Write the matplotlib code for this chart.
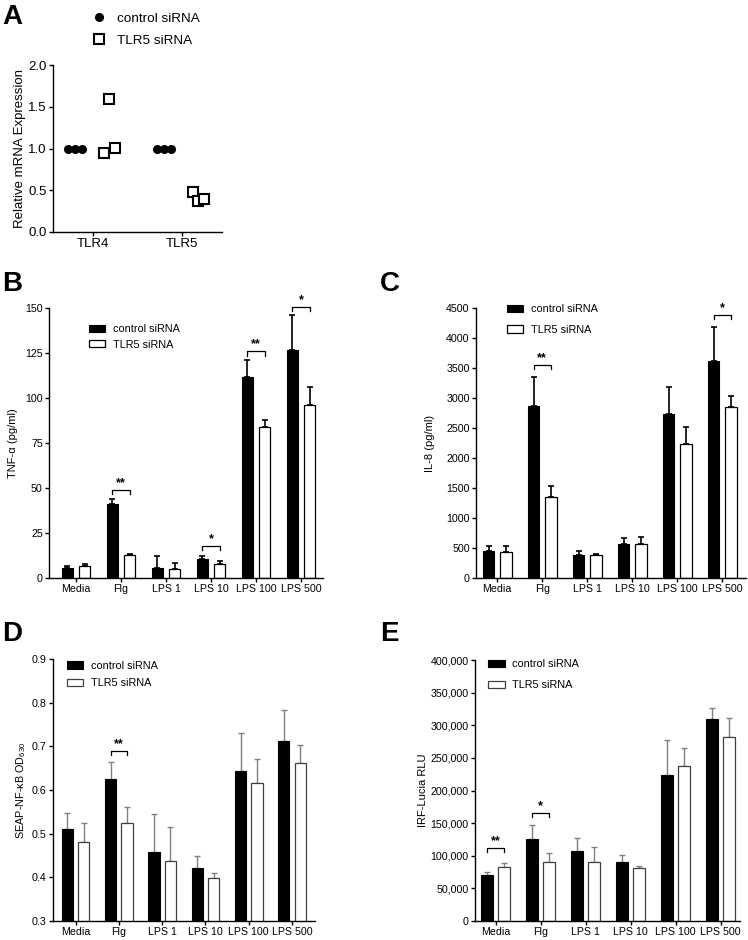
import matplotlib
matplotlib.use('Agg')
import matplotlib.pyplot as plt
import numpy as np
from matplotlib.ticker import FuncFormatter

plt.rcParams['font.family'] = ['Liberation Sans', 'DejaVu Sans']
plt.rcParams['mathtext.fontset'] = 'custom'
plt.rcParams['mathtext.rm'] = 'Liberation Sans'
plt.rcParams['axes.linewidth'] = 1.0

# %% data

genes = ['TLR4', 'TLR5']
a_control = [[1.0, 1.0, 1.0], [1.0, 1.0, 1.0]]
a_sirna = [[0.95, 1.59, 1.01], [0.48, 0.37, 0.39]]

treatments = ['Media', 'Flg', 'LPS 1', 'LPS 10', 'LPS 100', 'LPS 500']

tnf_control = [5.7, 41.3, 5.7, 10.4, 111.6, 126.7]
tnf_control_err = [0.8, 2.7, 6.5, 1.6, 9.4, 19.2]
tnf_sirna = [6.5, 12.8, 5.0, 8.0, 84.0, 95.9]
tnf_sirna_err = [1.5, 0.7, 3.5, 1.6, 3.7, 10.3]
tnf_sig = [(1, 49, '**'), (3, 18, '*'), (4, 126, '**'), (5, 150.5, '*')]

il8_control = [456, 2861, 378, 567, 2733, 3611]
il8_control_err = [83, 495, 78, 94, 456, 567]
il8_sirna = [439, 1356, 378, 561, 2233, 2856]
il8_sirna_err = [100, 172, 28, 117, 289, 172]
il8_sig = [(1, 3550, '**'), (5, 4390, '*')]

nfkb_control = [0.510, 0.626, 0.458, 0.421, 0.643, 0.712]
nfkb_control_err = [0.038, 0.038, 0.087, 0.029, 0.088, 0.071]
nfkb_sirna = [0.481, 0.525, 0.437, 0.398, 0.615, 0.661]
nfkb_sirna_err = [0.043, 0.036, 0.078, 0.013, 0.055, 0.041]
nfkb_sig = [(1, 0.69, '**')]

irf_control = [70300, 125600, 108000, 90000, 223000, 310000]
irf_control_err = [5500, 21400, 19000, 11000, 54000, 16000]
irf_sirna = [83500, 91000, 91000, 81000, 238000, 281500]
irf_sirna_err = [5200, 12500, 23000, 4000, 27000, 29500]
irf_sig = [(0, 112000, '**'), (1, 166000, '*')]

# %% layout helpers

W, H = 748, 940


def px_axes(fig, left, top, right, bottom):
    return fig.add_axes([left / W, 1 - bottom / H, (right - left) / W, (bottom - top) / H])


def style_axes(ax, fs):
    ax.spines['top'].set_visible(False)
    ax.spines['right'].set_visible(False)
    ax.tick_params(direction='out', length=3, width=1, labelsize=fs, pad=1.5)


def bar_panel(ax, ctrl, ctrl_err, sirna, sirna_err, sig, ylim, yticks,
              xlim, err_color='black', edge='black', err_lw=1.2):
    x = np.arange(len(treatments))
    off, w = 0.19, 0.26
    ax.bar(x - off, ctrl, w, color='black', edgecolor='black', linewidth=0.8,
           label='control siRNA', zorder=2)
    ax.bar(x + off, sirna, w, color='white', edgecolor=edge, linewidth=0.9,
           label='TLR5 siRNA', zorder=2)
    ax.errorbar(x - off, ctrl, yerr=[np.zeros(len(x)), ctrl_err], fmt='none',
                ecolor=err_color, elinewidth=err_lw, capsize=2.5, capthick=err_lw, zorder=1)
    ax.errorbar(x + off, sirna, yerr=[np.zeros(len(x)), sirna_err], fmt='none',
                ecolor=err_color, elinewidth=err_lw, capsize=2.5, capthick=err_lw, zorder=1)
    drop = 0.016 * (ylim[1] - ylim[0])
    for i, y, s in sig:
        ax.plot([i - off, i - off, i + off, i + off], [y - drop, y, y, y - drop],
                color='black', lw=0.9, clip_on=False)
        ax.annotate(s, (i, y), xytext=(0, 0.5), textcoords='offset points',
                    ha='center', va='bottom', fontsize=9, fontweight='bold',
                    annotation_clip=False)
    ax.set_xlim(*xlim)
    ax.set_ylim(*ylim)
    ax.set_yticks(yticks)
    ax.set_xticks(x)
    ax.set_xticklabels(treatments)
    style_axes(ax, 7.7)


def bar_legend(ax, x, y, spacing):
    ax.legend(loc='upper left', bbox_to_anchor=(x, y), frameon=False,
              fontsize=7.8, handlelength=1.5, handleheight=0.65, handletextpad=0.7,
              labelspacing=spacing, borderpad=0, borderaxespad=0)


fig = plt.figure(figsize=(W / 100, H / 100), dpi=100)

# %% A

ax_a = px_axes(fig, 53, 65, 222, 232)
ctrl_off = [-0.28, -0.2, -0.12]
sirna_off = [0.12, 0.18, 0.25]
for g in range(len(genes)):
    ax_a.plot(g + np.array(ctrl_off), a_control[g], 'o', color='black', ms=5.5,
              ls='none', clip_on=False, label='control siRNA' if g == 0 else None)
    ax_a.plot(g + np.array(sirna_off), a_sirna[g], 's', mfc='white', mec='black',
              mew=1.5, ms=6.5, ls='none', clip_on=False,
              label='TLR5 siRNA' if g == 0 else None)
ax_a.set_xlim(-0.45, 1.45)
ax_a.set_ylim(0, 2.0)
ax_a.set_yticks([0, 0.5, 1.0, 1.5, 2.0])
ax_a.yaxis.set_major_formatter(FuncFormatter(lambda v, p: f'{v:.1f}'))
ax_a.set_xticks(range(len(genes)))
ax_a.set_xticklabels(genes)
style_axes(ax_a, 9.5)
ax_a.set_ylabel('Relative mRNA Expression', fontsize=9.5)
ax_a.yaxis.set_label_coords(-0.16, 0.5)
ax_a.legend(loc='upper left', bbox_to_anchor=(0.235, 1.315), frameon=False,
            fontsize=9.7, handlelength=1.0, handletextpad=0.8, labelspacing=0.72,
            borderpad=0, borderaxespad=0)

# %% B

ax_b = px_axes(fig, 49, 308, 323, 578)
bar_panel(ax_b, tnf_control, tnf_control_err, tnf_sirna, tnf_sirna_err, tnf_sig,
          (0, 150), range(0, 151, 25), (-0.6, 5.49))
ax_b.set_ylabel('TNF-α (pg/ml)', fontsize=8)
ax_b.yaxis.set_label_coords(-0.113, 0.5)
bar_legend(ax_b, 0.146, 0.94, 0.5)

# %% C

ax_c = px_axes(fig, 476, 308, 746, 578)
bar_panel(ax_c, il8_control, il8_control_err, il8_sirna, il8_sirna_err, il8_sig,
          (0, 4500), range(0, 4501, 500), (-0.47, 5.53))
ax_c.set_ylabel('IL-8 (pg/ml)', fontsize=8)
ax_c.yaxis.set_label_coords(-0.152, 0.5)
bar_legend(ax_c, 0.115, 1.015, 1.0)

# %% D

ax_d = px_axes(fig, 53, 659, 315, 921)
bar_panel(ax_d, nfkb_control, nfkb_control_err, nfkb_sirna, nfkb_sirna_err, nfkb_sig,
          (0.3, 0.9), np.arange(0.3, 0.91, 0.1), (-0.52, 5.53),
          err_color='#808080', edge='#404040', err_lw=1.0)
ax_d.yaxis.set_major_formatter(FuncFormatter(lambda v, p: f'{v:.1f}'))
ax_d.set_ylabel('SEAP-NF-κB OD$_{630}$', fontsize=7.8)
ax_d.yaxis.set_label_coords(-0.095, 0.5)
bar_legend(ax_d, 0.053, 0.993, 0.7)

# %% E

ax_e = px_axes(fig, 475, 660, 740, 921)
bar_panel(ax_e, irf_control, irf_control_err, irf_sirna, irf_sirna_err, irf_sig,
          (0, 400000), range(0, 400001, 50000), (-0.46, 5.43),
          err_color='#808080', edge='#404040', err_lw=1.0)
ax_e.yaxis.set_major_formatter(FuncFormatter(lambda v, p: f'{int(v):,}'))
ax_e.set_ylabel('IRF-Lucia RLU', fontsize=8)
ax_e.yaxis.set_label_coords(-0.177, 0.5)
bar_legend(ax_e, 0.05, 1.003, 1.0)

# %% panel letters

for letter, lx, ly in [('A', 2, 4), ('B', 2, 271), ('C', 380, 271), ('D', 2, 621), ('E', 380, 621)]:
    fig.text(lx / W, 1 - ly / H, letter, fontsize=20, fontweight='bold', va='top', ha='left')

fig.savefig('out.png', dpi=100)
